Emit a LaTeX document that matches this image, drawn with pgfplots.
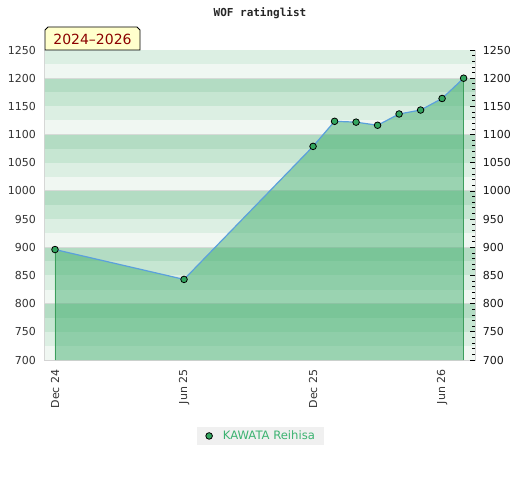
\documentclass[border=0pt]{standalone}
\usepackage{pgfplots}
\pgfplotsset{compat=1.18}
\usepackage{pgfplotstable}
\usepackage{fontspec}
\setmainfont{DejaVu Sans}
\newfontfamily\monofont{DejaVu Sans Mono}
\definecolor{bandA}{HTML}{B3DCC3}
\definecolor{bandB}{HTML}{C6E6D2}
\definecolor{bandC}{HTML}{DCEFE3}
\definecolor{bandD}{HTML}{F0F7F2}
\definecolor{areagreen}{HTML}{3DAC6B}
\definecolor{linecol}{HTML}{5BA0DC}
\definecolor{markcol}{HTML}{33A65F}
\definecolor{edgecol}{HTML}{3C9E5C}
\definecolor{borderc}{HTML}{D3D3D3}
\definecolor{gridc}{HTML}{D6DAD7}
\definecolor{boxyellow}{HTML}{FFFFCC}
\definecolor{darkred}{HTML}{8B0000}
\definecolor{legbg}{HTML}{F0F0F0}
\definecolor{legtext}{HTML}{3CB371}
\definecolor{ticktext}{HTML}{333333}

\pgfplotstableread{
x y
0 896
6 843
12 1079
13 1123.5
14 1122
15 1116.5
16 1136.5
17 1143.5
18 1164
19 1200
}\ratings

\begin{document}
\begin{tikzpicture}[x=1pt,y=1pt]
\path[use as bounding box] (0,0) rectangle (520,480);
\node[font=\monofont\bfseries\fontsize{11}{13}\selectfont, text=black!85] at (260,467) {WOF ratinglist};
\begin{axis}[
  at={(45pt,120pt)}, anchor=south west,
  scale only axis, width=430pt, height=310pt,
  xmin=-0.465, xmax=19.53, ymin=700, ymax=1250,
  axis line style={draw=borderc, line width=1pt},
  ytick={700,750,...,1250},
  xtick={0,6,12,18},
  xticklabels={Dec 24,Jun 25,Dec 25,Jun 26},
  major tick length=0pt,
  /pgf/number format/assume math mode=true,
  /pgf/number format/1000 sep={},
  ticklabel style={font=\fontsize{11}{13}\selectfont, text=ticktext},
  yticklabel shift=5.5pt,
  xticklabel style={rotate=90, anchor=east},
  xticklabel shift=6pt,
  legend style={at={(0.501,-0.245)}, anchor=center, draw=none, fill=legbg,
    font=\fontsize{11.6}{13}\selectfont, text=legtext, inner xsep=7pt, inner ysep=2pt},
  legend image code/.code={\path (0pt,0pt) (16.6pt,0pt); \draw[#1] plot coordinates {(5pt,0pt)};},
]
% background bands
\fill[bandD] (axis cs:-1,700) rectangle (axis cs:20,725);
\fill[bandC] (axis cs:-1,725) rectangle (axis cs:20,750);
\fill[bandB] (axis cs:-1,750) rectangle (axis cs:20,775);
\fill[bandA] (axis cs:-1,775) rectangle (axis cs:20,800);
\fill[bandD] (axis cs:-1,800) rectangle (axis cs:20,825);
\fill[bandC] (axis cs:-1,825) rectangle (axis cs:20,850);
\fill[bandB] (axis cs:-1,850) rectangle (axis cs:20,875);
\fill[bandA] (axis cs:-1,875) rectangle (axis cs:20,900);
\fill[bandD] (axis cs:-1,900) rectangle (axis cs:20,925);
\fill[bandC] (axis cs:-1,925) rectangle (axis cs:20,950);
\fill[bandB] (axis cs:-1,950) rectangle (axis cs:20,975);
\fill[bandA] (axis cs:-1,975) rectangle (axis cs:20,1000);
\fill[bandD] (axis cs:-1,1000) rectangle (axis cs:20,1025);
\fill[bandC] (axis cs:-1,1025) rectangle (axis cs:20,1050);
\fill[bandB] (axis cs:-1,1050) rectangle (axis cs:20,1075);
\fill[bandA] (axis cs:-1,1075) rectangle (axis cs:20,1100);
\fill[bandD] (axis cs:-1,1100) rectangle (axis cs:20,1125);
\fill[bandC] (axis cs:-1,1125) rectangle (axis cs:20,1150);
\fill[bandB] (axis cs:-1,1150) rectangle (axis cs:20,1175);
\fill[bandA] (axis cs:-1,1175) rectangle (axis cs:20,1200);
\fill[bandD] (axis cs:-1,1200) rectangle (axis cs:20,1225);
\fill[bandC] (axis cs:-1,1225) rectangle (axis cs:20,1250);
% grid lines every 100
\draw[gridc, line width=1pt] (axis cs:-1,800) -- (axis cs:20,800);
\draw[gridc, line width=1pt] (axis cs:-1,900) -- (axis cs:20,900);
\draw[gridc, line width=1pt] (axis cs:-1,1000) -- (axis cs:20,1000);
\draw[gridc, line width=1pt] (axis cs:-1,1100) -- (axis cs:20,1100);
\draw[gridc, line width=1pt] (axis cs:-1,1200) -- (axis cs:20,1200);
% area
\addplot[fill=areagreen, fill opacity=0.48, draw=none, forget plot] table[x=x,y=y] {\ratings} \closedcycle;
% end lines
\addplot[edgecol, line width=0.9pt, forget plot] coordinates {(0,700) (0,896)};
\addplot[edgecol, line width=0.9pt, forget plot] coordinates {(19,700) (19,1200)};
% line
\addplot[linecol, line width=1.2pt, forget plot] table[x=x,y=y] {\ratings};
% markers
\addplot[only marks, mark=*, mark size=3.3pt, mark options={fill=markcol, draw=black, line width=0.8pt}] table[x=x,y=y] {\ratings};
\addlegendentry{KAWATA Reihisa}
\end{axis}
\begin{axis}[
  at={(45pt,120pt)}, anchor=south west,
  scale only axis, width=430pt, height=310pt,
  xmin=-0.465, xmax=19.53, ymin=700, ymax=1250,
  axis x line=none, axis y line*=right,
  y axis line style={draw=none},
  ytick={700,750,...,1250}, minor y tick num=4,
  tick align=inside, major tick length=5pt, minor tick length=3pt,
  every tick/.style={black, line width=0.7pt},
  /pgf/number format/assume math mode=true,
  /pgf/number format/1000 sep={},
  ticklabel style={font=\fontsize{11}{13}\selectfont, text=black!90},
  yticklabel shift=4.3pt,
]
\end{axis}
\draw[fill=boxyellow, line width=0.9pt] (45,430) -- (45,450) -- (48,453) -- (137,453) -- (140,450) -- (140,430) -- cycle;
\node[font=\fontsize{14}{16}\selectfont, text=darkred] at (92.5,441) {2024–2026};
\end{tikzpicture}
\end{document}
